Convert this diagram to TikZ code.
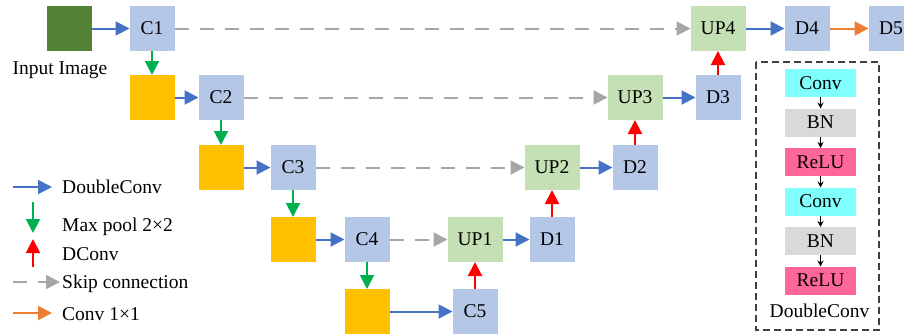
\documentclass[tikz,border=0pt]{standalone}
\usepackage{fontspec}
\setmainfont{Liberation Serif}
\usepackage{tikz}
\usetikzlibrary{arrows.meta, positioning}
\definecolor{convblue}{HTML}{B4C7E7}
\definecolor{upgreen}{HTML}{C5E0B4}
\definecolor{poolyellow}{HTML}{FFC000}
\definecolor{imggreen}{HTML}{548235}
\definecolor{layercyan}{HTML}{80FFFF}
\definecolor{layergray}{HTML}{D9D9D9}
\definecolor{layerpink}{HTML}{FF6699}
\definecolor{arrowblue}{HTML}{4472C4}
\definecolor{arrowgreen}{HTML}{00B050}
\definecolor{arrowred}{HTML}{FF0000}
\definecolor{arrowgray}{HTML}{A6A6A6}
\definecolor{arroworange}{HTML}{ED7D31}
\tikzstyle{block} = [rectangle, minimum width=45pt, minimum height=45pt, inner sep=0pt, outer sep=0pt, text centered]
\tikzstyle{convblock} = [block, fill=convblue]
\tikzstyle{poolblock} = [block, fill=poolyellow]
\tikzstyle{upblock} = [block, minimum width=55pt, fill=upgreen]
\tikzstyle{imgblock} = [block, fill=imggreen]
\tikzstyle{layer} = [rectangle, minimum width=71pt, minimum height=28pt, inner sep=0pt, outer sep=0pt, text centered]
\tikzstyle{arrow} = [line width=2pt, -{Triangle[length=14pt, width=14pt]}]
\tikzstyle{doubleconv} = [arrow, color=arrowblue]
\tikzstyle{maxpool} = [arrow, color=arrowgreen]
\tikzstyle{deconv} = [arrow, color=arrowred]
\tikzstyle{skip} = [arrow, color=arrowgray, dash pattern=on 14pt off 11pt]
\tikzstyle{outconv} = [arrow, color=arroworange]
\tikzstyle{smallarrow} = [line width=1pt, -{Stealth[length=6pt, width=6pt]}]

\begin{document}
\begin{tikzpicture}[x=1pt, y=-1pt, font=\fontsize{19.5}{23}\selectfont]
	\useasboundingbox (0,0) rectangle (904,335);
	\clip (0,0) rectangle (904,335);
	% encoder
	\node (Input) [imgblock] at (69,28.5) {};
	\node (InputLabel) at (60,70) {Input Image};
	\node (C1) [convblock, right = 38pt of Input] {C1};
	\node (Pool1) [poolblock, below = 24pt of C1] {};
	\node (C2) [convblock, right = 24pt of Pool1] {C2};
	\node (Pool2) [poolblock, below = 25pt of C2] {};
	\node (C3) [convblock, right = 27pt of Pool2] {C3};
	\node (Pool3) [poolblock, below = 27pt of C3] {};
	\node (C4) [convblock, right = 29pt of Pool3] {C4};
	\node (Pool4) [poolblock, below = 27pt of C4] {};
	\node (C5) [convblock, right = 63pt of Pool4] {C5};
	% decoder
	\node (UP1) [upblock, above = 27pt of C5] {UP1};
	\node (D1) [convblock, right = 27pt of UP1] {D1};
	\node (UP2) [upblock, above = 27pt of D1] {UP2};
	\node (D2) [convblock, right = 33pt of UP2] {D2};
	\node (UP3) [upblock, above = 25pt of D2] {UP3};
	\node (D3) [convblock, right = 33pt of UP3] {D3};
	\node (UP4) [upblock, above = 24pt of D3] {UP4};
	\node (D4) [convblock, right = 39pt of UP4] {D4};
	\node (D5) [convblock, right = 39pt of D4] {D5};
	\draw [doubleconv] (Input) -- (C1);
	\draw [maxpool] (C1) -- (Pool1);
	\draw [doubleconv] (Pool1) -- (C2);
	\draw [maxpool] (C2) -- (Pool2);
	\draw [doubleconv] (Pool2) -- (C3);
	\draw [maxpool] (C3) -- (Pool3);
	\draw [doubleconv] (Pool3) -- (C4);
	\draw [maxpool] (C4) -- (Pool4);
	\draw [doubleconv] (Pool4) -- (C5);
	\draw [deconv] (C5) -- (UP1);
	\draw [doubleconv] (UP1) -- (D1);
	\draw [deconv] (D1) -- (UP2);
	\draw [doubleconv] (UP2) -- (D2);
	\draw [deconv] (D2) -- (UP3);
	\draw [doubleconv] (UP3) -- (D3);
	\draw [deconv] (D3) -- (UP4);
	\draw [doubleconv] (UP4) -- (D4);
	\draw [outconv] (D4) -- (D5);
	\draw [skip] (C1) -- (UP4);
	\draw [skip] (C2) -- (UP3);
	\draw [skip] (C3) -- (UP2);
	\draw [skip] (C4) -- (UP1);
	% legend
	\coordinate (LegBlueA) at (13,187);
	\coordinate (LegBlueB) at (52,187);
	\coordinate (LegGreenA) at (33,202);
	\coordinate (LegGreenB) at (33,233);
	\coordinate (LegRedA) at (33,267);
	\coordinate (LegRedB) at (33,239);
	\coordinate (LegGrayA) at (13,282);
	\coordinate (LegGrayB) at (60,282);
	\coordinate (LegOrangeA) at (13,313);
	\coordinate (LegOrangeB) at (52,313);
	\draw [doubleconv] (LegBlueA) -- (LegBlueB);
	\draw [maxpool] (LegGreenA) -- (LegGreenB);
	\draw [deconv] (LegRedA) -- (LegRedB);
	\draw [skip] (LegGrayA) -- (LegGrayB);
	\draw [outconv] (LegOrangeA) -- (LegOrangeB);
	\node (LegDoubleConv) [anchor=base west, inner sep=0pt] at (62,193) {DoubleConv};
	\node (LegMaxPool) [anchor=base west, inner sep=0pt] at (62,231) {Max pool 2×2};
	\node (LegDConv) [anchor=base west, inner sep=0pt] at (62,260) {DConv};
	\node (LegSkip) [anchor=base west, inner sep=0pt] at (62,288) {Skip connection};
	\node (LegConvOne) [anchor=base west, inner sep=0pt] at (62,320) {Conv 1×1};
	% DoubleConv block
	\draw [dashed, dash pattern=on 7pt off 4pt, line width=1.3pt, color=black!75] (756,62) rectangle (879,330);
	\node (Conv1) [layer, fill=layercyan] at (820.5,83) {Conv};
	\node (BN1) [layer, fill=layergray, below = 11.5pt of Conv1] {BN};
	\node (ReLU1) [layer, fill=layerpink, below = 11.5pt of BN1] {ReLU};
	\node (Conv2) [layer, fill=layercyan, below = 11.5pt of ReLU1] {Conv};
	\node (BN2) [layer, fill=layergray, below = 11.5pt of Conv2] {BN};
	\node (ReLU2) [layer, fill=layerpink, below = 11.5pt of BN2] {ReLU};
	\node (DCLabel) at (819.5,311) {DoubleConv};
	\draw [smallarrow] (Conv1) -- (BN1);
	\draw [smallarrow] (BN1) -- (ReLU1);
	\draw [smallarrow] (ReLU1) -- (Conv2);
	\draw [smallarrow] (Conv2) -- (BN2);
	\draw [smallarrow] (BN2) -- (ReLU2);
\end{tikzpicture}
\end{document}
